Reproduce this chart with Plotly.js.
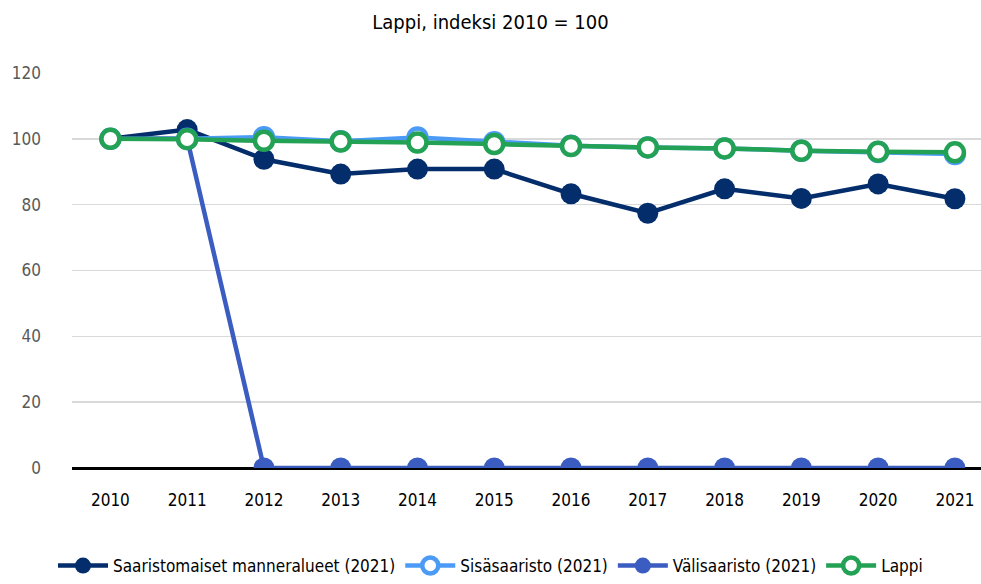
<!DOCTYPE html>
<html><head><meta charset="utf-8">
<script src="https://cdn.plot.ly/plotly-3.0.1.min.js"></script>
<style>html,body{margin:0;padding:0;background:#fff}#c{width:981px;height:584px}</style>
</head><body><div id="c"></div>
<script>
const years = ['2010','2011','2012','2013','2014','2015','2016','2017','2018','2019','2020','2021'];
const saaristomaiset = [100, 102.8, 93.8, 89.3, 90.8, 90.8, 83.3, 77.4, 84.8, 81.9, 86.3, 81.8];
const sisasaaristo = [100, 100, 100.5, 99.3, 100.4, 99.0, 97.9, 97.4, 97.1, 96.4, 96.0, 95.4];
const valisaaristo = [100, 100, 0, 0, 0, 0, 0, 0, 0, 0, 0, 0];
const lappi = [100, 99.9, 99.4, 99.2, 98.9, 98.4, 97.8, 97.4, 97.1, 96.4, 96.1, 95.9];
const names = ['Saaristomaiset manneralueet (2021)', 'Sisäsaaristo (2021)', 'Välisaaristo (2021)', 'Lappi'];

const F = '"DejaVu Sans Condensed", "Liberation Sans Narrow", sans-serif';
const font = (size, color) => ({family: F, size: size, color: color});
const traces = [
  {x: years, y: saaristomaiset, name: names[0], mode: 'lines+markers',
   line: {color: '#032d6b', width: 4.5}, marker: {color: '#032d6b', size: 21}},
  {x: years, y: sisasaaristo, name: names[1], mode: 'lines+markers',
   line: {color: '#4b9bf6', width: 4.5}, marker: {color: '#ffffff', size: 18, line: {color: '#4b9bf6', width: 4.5}}},
  {x: years, y: valisaaristo, name: names[2], mode: 'lines+markers',
   line: {color: '#3b5cc0', width: 4.5}, marker: {color: '#3b5cc0', size: 21}},
  {x: years, y: lappi, name: names[3], mode: 'lines+markers',
   line: {color: '#23a155', width: 4.5}, marker: {color: '#ffffff', size: 18, line: {color: '#23a155', width: 4.5}}}
];
const layout = {
  width: 981, height: 584,
  margin: {l: 72, r: 0, t: 73, b: 116},
  paper_bgcolor: '#fff', plot_bgcolor: '#fff',
  font: font(17, '#000'),
  title: {text: 'Lappi, indeksi 2010 = 100', font: font(20, '#000'), x: 0.5, xanchor: 'center', y: 0.962, yanchor: 'middle'},
  xaxis: {type: 'category', range: [-0.5, 11.34], showgrid: false, zeroline: false, showline: false,
          ticks: '', ticklabelstandoff: 20, tickfont: font(17, '#000')},
  yaxis: {range: [0, 120], dtick: 20, showgrid: true, gridcolor: '#d9d9d9', gridwidth: 1.5,
          zeroline: true, zerolinecolor: '#000', zerolinewidth: 3, showline: false, ticks: '',
          ticklabelstandoff: 30, tickfont: font(17, '#595959')},
  legend: {orientation: 'h', xref: 'container', x: 0.5, xanchor: 'center', yref: 'container', y: -0.012, yanchor: 'bottom',
           font: font(17, '#000'), itemwidth: 50, traceorder: 'normal'},
  showlegend: true
};
Plotly.newPlot('c', traces, layout, {displayModeBar: false, staticPlot: true});
</script></body></html>
